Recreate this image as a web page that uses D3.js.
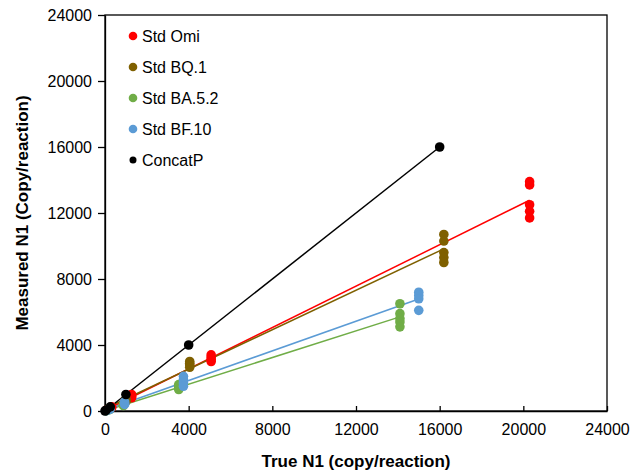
<!DOCTYPE html>
<html>
<head>
<meta charset="utf-8">
<script src="https://cdn.jsdelivr.net/npm/d3@7"></script>
<style>
  body { margin: 0; background: #fff; }
  svg text { font-family: "Liberation Sans", Arial, sans-serif; }
</style>
</head>
<body>
<div id="chart"></div>
<script>
// Series names and colours
const seriesNames = ['Std Omi', 'Std BQ.1', 'Std BA.5.2', 'Std BF.10', 'ConcatP'];
const seriesColors = ['#ff0000', '#7f6000', '#70ad47', '#5b9bd5', '#000000'];

// True N1 (x) and measured N1 (y) for each series
const omiX = [79, 79, 317, 317, 1269, 1269, 1269, 1269, 5075, 5075, 5075, 5075, 20300, 20300, 20300, 20300, 20300];
const omiY = [60, 50, 250, 200, 1000, 900, 850, 800, 3400, 3250, 3100, 3000, 13900, 13700, 12500, 12100, 11700];

const bq1X = [63, 63, 253, 253, 1012, 1012, 1012, 4050, 4050, 4050, 4050, 16200, 16200, 16200, 16200, 16200];
const bq1Y = [40, 30, 200, 150, 700, 650, 600, 3000, 2900, 2800, 2650, 10700, 10300, 9600, 9300, 9000];

const ba52X = [55, 55, 220, 220, 881, 881, 881, 3525, 3525, 3525, 3525, 14100, 14100, 14100, 14100, 14100];
const ba52Y = [25, 20, 100, 80, 400, 350, 330, 1600, 1500, 1400, 1300, 6500, 5900, 5600, 5400, 5100];

const bf10X = [59, 59, 234, 234, 937, 937, 937, 3750, 3750, 3750, 3750, 15000, 15000, 15000, 15000];
const bf10Y = [30, 25, 120, 100, 550, 450, 400, 2100, 1900, 1700, 1500, 7200, 7000, 6800, 6100];

const concatX = [0, 62.5, 250, 1000, 4000, 16000];
const concatY = [0, 62.5, 250, 1000, 4000, 16000];

// Axis ticks
const xTicks = [0, 4000, 8000, 12000, 16000, 20000, 24000];
const yTicks = [0, 4000, 8000, 12000, 16000, 20000, 24000];

const allX = [omiX, bq1X, ba52X, bf10X, concatX];
const allY = [omiY, bq1Y, ba52Y, bf10Y, concatY];

const width = 634, height = 473;
const plot = { left: 105, right: 607, top: 15, bottom: 411 };

const svg = d3.select('#chart').append('svg')
    .attr('width', width)
    .attr('height', height);

const x = d3.scaleLinear().domain([0, 24000]).range([plot.left, plot.right]);
const y = d3.scaleLinear().domain([0, 24000]).range([plot.bottom, plot.top]);

// Linear least squares fit, drawn from min x to max x like an Excel trendline
function fit(xs, ys) {
    const n = xs.length;
    const mx = d3.mean(xs), my = d3.mean(ys);
    let sxy = 0, sxx = 0;
    for (let i = 0; i < n; i++) {
        sxy += (xs[i] - mx) * (ys[i] - my);
        sxx += (xs[i] - mx) * (xs[i] - mx);
    }
    const b = sxy / sxx, a = my - b * mx;
    const x0 = d3.min(xs), x1 = d3.max(xs);
    return [[x0, a + b * x0], [x1, a + b * x1]];
}

// Plot frame
svg.append('rect')
    .attr('x', plot.left)
    .attr('y', plot.top)
    .attr('width', plot.right - plot.left)
    .attr('height', plot.bottom - plot.top)
    .attr('fill', 'none')
    .attr('stroke', '#000')
    .attr('stroke-width', 1.3);

// Axes
const xAxis = svg.append('g')
    .attr('transform', `translate(0,${plot.bottom})`)
    .call(d3.axisBottom(x).tickValues(xTicks).tickSizeInner(-5).tickSizeOuter(0).tickPadding(13).tickFormat(d3.format('d')));
const yAxis = svg.append('g')
    .attr('transform', `translate(${plot.left},0)`)
    .call(d3.axisLeft(y).tickValues(yTicks).tickSizeInner(7).tickSizeOuter(0).tickPadding(6).tickFormat(d3.format('d')));

[xAxis, yAxis].forEach(g => {
    g.select('.domain').attr('stroke', '#000').attr('stroke-width', 1.3);
    g.selectAll('.tick line').attr('stroke', '#000').attr('stroke-width', 1.3);
    g.selectAll('.tick text')
        .attr('fill', '#000')
        .style('font-size', '16px');
});

// Trendlines
const line = d3.line().x(d => x(d[0])).y(d => y(d[1]));
seriesNames.forEach((name, i) => {
    svg.append('path')
        .attr('d', line(fit(allX[i], allY[i])))
        .attr('stroke', seriesColors[i])
        .attr('stroke-width', 1.5)
        .attr('fill', 'none');
});

// Points
seriesNames.forEach((name, i) => {
    svg.append('g').selectAll('circle')
        .data(allX[i].map((v, j) => [v, allY[i][j]]))
        .join('circle')
        .attr('cx', d => x(d[0]))
        .attr('cy', d => y(d[1]))
        .attr('r', 4.8)
        .attr('fill', seriesColors[i]);
});

// Legend
const legend = svg.append('g').attr('transform', 'translate(133,36)');
seriesNames.forEach((name, i) => {
    const row = legend.append('g').attr('transform', `translate(0,${i * 31})`);
    row.append('circle')
        .attr('r', i === 4 ? 3.5 : 4.3)
        .attr('fill', seriesColors[i]);
    row.append('text')
        .attr('x', 9)
        .attr('y', 5.5)
        .style('font-size', '16px')
        .text(name);
});

// Axis titles
svg.append('text')
    .attr('x', (plot.left + plot.right) / 2)
    .attr('y', 467)
    .attr('text-anchor', 'middle')
    .style('font-size', '17px')
    .style('font-weight', 'bold')
    .text('True N1 (copy/reaction)');

svg.append('text')
    .attr('transform', `translate(28,${(plot.top + plot.bottom) / 2}) rotate(-90)`)
    .attr('text-anchor', 'middle')
    .style('font-size', '17px')
    .style('font-weight', 'bold')
    .text('Measured N1 (Copy/reaction)');
</script>
</body>
</html>
